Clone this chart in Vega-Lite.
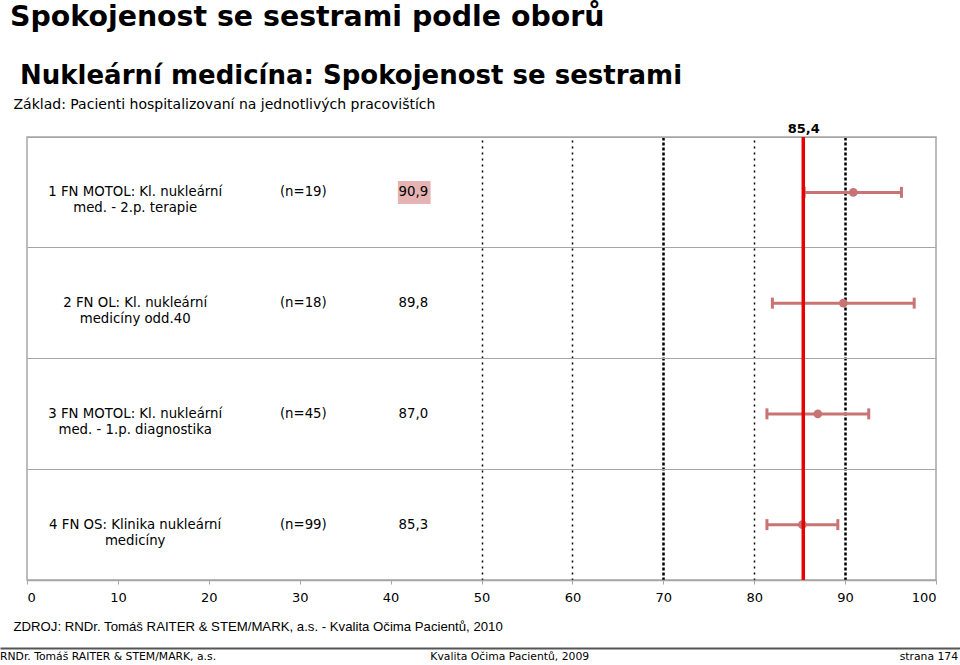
{
  "$schema": "https://vega.github.io/schema/vega-lite/v6.json",
  "padding": {"top": 2, "left": 0, "right": 0, "bottom": 0},
  "background": "white",
  "config": {
    "locale": {"number": {"decimal": ",", "thousands": " ", "grouping": [3], "currency": ["", " Kč"]}},
    "font": "DejaVu Sans",
    "view": {"stroke": null}
  },
  "datasets": {
    "rows": [
      {"row": "1", "label": "1 FN MOTOL: Kl. nukleární\nmed. - 2.p. terapie", "n": "(n=19)", "mean": 90.9, "lo": 85.5, "hi": 96.2},
      {"row": "2", "label": "2 FN OL: Kl. nukleární\nmedicíny odd.40", "n": "(n=18)", "mean": 89.8, "lo": 82.0, "hi": 97.6},
      {"row": "3", "label": "3 FN MOTOL: Kl. nukleární\nmed. - 1.p. diagnostika", "n": "(n=45)", "mean": 87.0, "lo": 81.4, "hi": 92.6},
      {"row": "4", "label": "4 FN OS: Klinika nukleární\nmedicíny", "n": "(n=99)", "mean": 85.3, "lo": 81.4, "hi": 89.2}
    ],
    "overall": [{"overall": 85.4}],
    "footer": [{"left": "RNDr. Tomáš RAITER & STEM/MARK, a.s.", "center": "Kvalita Očima Pacientů, 2009", "right": "strana 174"}]
  },
  "title": {
    "text": "Spokojenost se sestrami podle oborů",
    "anchor": "start",
    "frame": "group",
    "font": "DejaVu Sans",
    "fontSize": 28.4,
    "fontWeight": "bold",
    "color": "#000000",
    "dx": -17,
    "offset": 30
  },
  "spacing": 15,
  "vconcat": [
    {
      "width": 909,
      "height": 443,
      "view": {"stroke": "#a6a6a6", "strokeWidth": 1.5},
      "title": {
        "text": "Nukleární medicína: Spokojenost se sestrami",
        "anchor": "start",
        "frame": "group",
        "font": "DejaVu Sans",
        "fontSize": 26,
        "fontWeight": "bold",
        "color": "#000000",
        "dx": -7,
        "offset": 8
      },
      "data": {"name": "rows"},
      "layer": [
        {
          "mark": {"type": "rule", "color": "#c97474", "strokeWidth": 3},
          "encoding": {
            "x": {
              "field": "lo",
              "type": "quantitative",
              "scale": {"domain": [0, 100], "nice": false, "zero": false},
              "axis": {
                "orient": "bottom",
                "values": [0, 10, 20, 30, 40, 50, 60, 70, 80, 90, 100],
                "format": "d",
                "labelFont": "DejaVu Sans",
                "labelFontSize": 13,
                "labelColor": "#000000",
                "labelPadding": 7,
                "ticks": true,
                "tickSize": 4,
                "tickColor": "#a6a6a6",
                "domain": true,
                "domainColor": "#a6a6a6",
                "domainWidth": 1.5,
                "grid": true,
                "gridColor": "#000000",
                "gridOpacity": {"condition": {"test": "datum.value >= 50 && datum.value <= 90", "value": 1}, "value": 0},
                "gridWidth": {"condition": {"test": "datum.value === 70 || datum.value === 90", "value": 2.5}, "value": 1.5},
                "gridDash": {"condition": {"test": "datum.value === 70 || datum.value === 90", "value": [3, 2]}, "value": [2, 4]},
                "title": "ZDROJ: RNDr. Tomáš RAITER & STEM/MARK, a.s. -  Kvalita Očima Pacientů, 2010",
                "titleFont": "Liberation Sans",
                "titleFontSize": 13.2,
                "titleFontWeight": "normal",
                "titleColor": "#000000",
                "titleAlign": "left",
                "titleBaseline": "middle",
                "titleX": -14,
                "titleY": 46
              }
            },
            "x2": {"field": "hi"},
            "y": {
              "field": "row",
              "type": "nominal",
              "scale": {"paddingInner": 0, "paddingOuter": 0},
              "axis": {
                "labels": false,
                "ticks": false,
                "domain": false,
                "title": null,
                "grid": true,
                "bandPosition": 0,
                "gridColor": "#a6a6a6",
                "gridWidth": 1
              }
            }
          }
        },
        {
          "mark": {"type": "tick", "color": "#c97474", "size": 11, "thickness": 3, "opacity": 1},
          "encoding": {
            "x": {"field": "lo", "type": "quantitative", "axis": null},
            "y": {"field": "row", "type": "nominal"}
          }
        },
        {
          "mark": {"type": "tick", "color": "#c97474", "size": 11, "thickness": 3, "opacity": 1},
          "encoding": {
            "x": {"field": "hi", "type": "quantitative", "axis": null},
            "y": {"field": "row", "type": "nominal"}
          }
        },
        {
          "mark": {"type": "point", "filled": true, "color": "#c97474", "size": 75, "opacity": 1},
          "encoding": {
            "x": {"field": "mean", "type": "quantitative", "axis": null},
            "y": {"field": "row", "type": "nominal"}
          }
        },
        {
          "transform": [
            {"joinaggregate": [{"op": "max", "field": "mean", "as": "maxMean"}]},
            {"filter": "datum.mean === datum.maxMean"}
          ],
          "mark": {"type": "rect", "color": "#e6b3b3", "height": 23},
          "encoding": {
            "x": {"datum": 40.8, "type": "quantitative", "axis": null},
            "x2": {"datum": 44.4},
            "y": {"field": "row", "type": "nominal"}
          }
        },
        {
          "mark": {"type": "text", "font": "DejaVu Sans", "fontSize": 13.3, "color": "#000000", "align": "center", "baseline": "middle", "lineBreak": "\n", "lineHeight": 16},
          "encoding": {
            "x": {"datum": 11.9, "type": "quantitative", "axis": null},
            "y": {"field": "row", "type": "nominal"},
            "text": {"field": "label"}
          }
        },
        {
          "mark": {"type": "text", "font": "DejaVu Sans", "fontSize": 13.3, "color": "#000000", "align": "center", "baseline": "middle"},
          "encoding": {
            "x": {"datum": 30.4, "type": "quantitative", "axis": null},
            "y": {"field": "row", "type": "nominal"},
            "text": {"field": "n"}
          }
        },
        {
          "mark": {"type": "text", "font": "DejaVu Sans", "fontSize": 13.3, "color": "#000000", "align": "center", "baseline": "middle"},
          "encoding": {
            "x": {"datum": 42.5, "type": "quantitative", "axis": null},
            "y": {"field": "row", "type": "nominal"},
            "text": {"field": "mean", "type": "quantitative", "format": ".1f"}
          }
        },
        {
          "data": {"name": "overall"},
          "mark": {"type": "rule", "color": "#e60000", "strokeWidth": 3.5},
          "encoding": {
            "x": {
              "field": "overall",
              "type": "quantitative",
              "axis": {
                "orient": "top",
                "values": [85.4],
                "format": ".1f",
                "labelFont": "DejaVu Sans",
                "labelFontSize": 13,
                "labelFontWeight": "bold",
                "labelColor": "#000000",
                "labelPadding": 2,
                "ticks": false,
                "domain": false,
                "grid": false,
                "title": "Základ: Pacienti hospitalizovaní na jednotlivých pracovištích",
                "titleFont": "DejaVu Sans",
                "titleFontSize": 14,
                "titleFontWeight": "normal",
                "titleColor": "#000000",
                "titleAlign": "left",
                "titleBaseline": "middle",
                "titleX": -14,
                "titleY": -33
              }
            }
          }
        }
      ],
      "resolve": {"axis": {"x": "independent"}}
    },
    {
      "width": 909,
      "height": 18,
      "data": {"name": "footer"},
      "layer": [
        {
          "mark": {"type": "text", "font": "DejaVu Sans", "fontSize": 10.8, "color": "#000000", "align": "left", "baseline": "middle"},
          "encoding": {
            "x": {
              "datum": 0,
              "type": "quantitative",
              "scale": {"domain": [0, 100], "range": [-27, 933], "nice": false, "zero": false},
              "axis": {
                "orient": "top",
                "labels": false,
                "ticks": false,
                "grid": false,
                "title": null,
                "domain": true,
                "domainColor": "#555555",
                "domainWidth": 2
              }
            },
            "text": {"field": "left"}
          }
        },
        {
          "mark": {"type": "text", "font": "DejaVu Sans", "fontSize": 10.8, "color": "#000000", "align": "center", "baseline": "middle"},
          "encoding": {
            "x": {"datum": 53.1, "type": "quantitative"},
            "text": {"field": "center"}
          }
        },
        {
          "mark": {"type": "text", "font": "DejaVu Sans", "fontSize": 10.8, "color": "#000000", "align": "right", "baseline": "middle"},
          "encoding": {
            "x": {"datum": 99.8, "type": "quantitative"},
            "text": {"field": "right"}
          }
        }
      ]
    }
  ]
}
